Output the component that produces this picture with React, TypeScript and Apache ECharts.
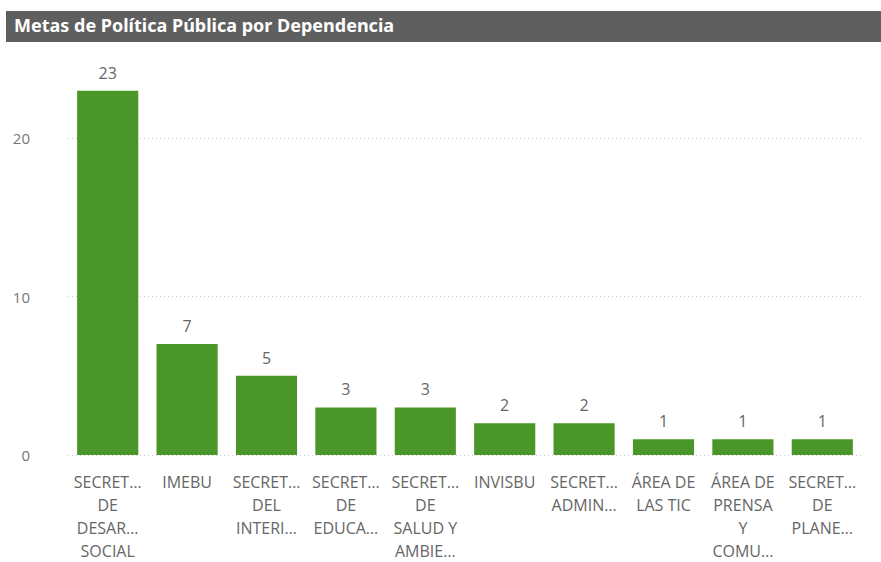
import React, { useEffect, useRef } from "react";
import * as echarts from "echarts";

const categories = [
  "SECRET…\nDE\nDESAR…\nSOCIAL",
  "IMEBU",
  "SECRET…\nDEL\nINTERI…",
  "SECRET…\nDE\nEDUCA…",
  "SECRET…\nDE\nSALUD Y\nAMBIE…",
  "INVISBU",
  "SECRET…\nADMIN…",
  "ÁREA DE\nLAS TIC",
  "ÁREA DE\nPRENSA\nY\nCOMU…",
  "SECRET…\nDE\nPLANE…",
];
const values = [23, 7, 5, 3, 3, 2, 2, 1, 1, 1];
const yTicks = { min: 0, max: 25, interval: 10 };
const title = "Metas de Política Pública por Dependencia";

export default function App() {
  const ref = useRef<HTMLDivElement>(null);
  useEffect(() => {
    const chart = echarts.init(ref.current!, null, { renderer: "svg" });
    chart.setOption({
      animation: false,
      backgroundColor: "#ffffff",
      graphic: [
        {
          type: "rect",
          shape: { x: 6, y: 11, width: 875, height: 31 },
          style: { fill: "#5f5f5f" },
        },
        {
          type: "text",
          x: 14,
          y: 25,
          style: {
            text: title,
            fill: "#ffffff",
            font: "bold 18px 'Liberation Sans Narrow', 'Noto Sans', sans-serif",
            verticalAlign: "middle",
          },
        },
      ],
      grid: { left: 68, right: 19, top: 59, bottom: 107, outerBoundsMode: "none" },
      xAxis: {
        type: "category",
        data: categories,
        axisLine: { show: false },
        axisTick: { show: false },
        axisLabel: {
          interval: 0,
          color: "#666666",
          fontSize: 16,
          lineHeight: 23,
          margin: 15,
          fontFamily: "'Open Sans', 'Noto Sans', sans-serif",
        },
      },
      yAxis: {
        type: "value",
        min: yTicks.min,
        max: yTicks.max,
        interval: yTicks.interval,
        axisLine: { show: false },
        axisTick: { show: false },
        axisLabel: {
          color: "#777777",
          fontSize: 15,
          margin: 38,
          showMaxLabel: false,
          fontFamily: "'Open Sans', 'Noto Sans', sans-serif",
        },
        splitLine: {
          showMaxLine: false,
          lineStyle: { color: "#cccccc", type: [1, 3], width: 1 },
        },
      },
      series: [
        {
          type: "bar",
          data: values,
          barCategoryGap: "23%",
          itemStyle: { color: "#4b9629" },
          label: {
            show: true,
            position: "top",
            distance: 10,
            color: "#666666",
            fontSize: 16,
            fontFamily: "'Open Sans', 'Noto Sans', sans-serif",
          },
        },
      ],
    });
    return () => chart.dispose();
  }, []);
  return (
    <div
      ref={ref}
      style={{ position: "fixed", left: 0, top: 0, width: 881, height: 562 }}
    />
  );
}
